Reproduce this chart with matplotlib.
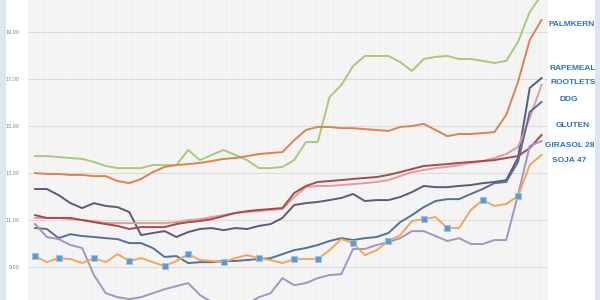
import numpy as np
import matplotlib
matplotlib.use("Agg")
import matplotlib.pyplot as plt
from matplotlib.patches import Rectangle

# weekly prices, one value per week (44 weeks)
weeks = list(range(44))

green = [13.72, 13.72, 13.68, 13.64, 13.60, 13.47, 13.30, 13.21, 13.21, 13.21,
         13.34, 13.34, 13.34, 13.98, 13.55, 13.77, 13.98, 13.77, 13.55, 13.21,
         13.21, 13.26, 13.55, 14.32, 14.32, 16.23, 16.74, 17.55, 17.98, 17.98,
         17.98, 17.72, 17.34, 17.85, 17.94, 17.98, 17.85, 17.85, 17.77, 17.68,
         17.77, 18.57, 19.85, 20.57]

palmkern = [13.00, 12.96, 12.96, 12.92, 12.92, 12.87, 12.87, 12.66, 12.57, 12.75,
            13.04, 13.26, 13.34, 13.38, 13.43, 13.51, 13.60, 13.64, 13.72, 13.81,
            13.85, 13.89, 14.40, 14.83, 14.96, 14.96, 14.91, 14.91, 14.87, 14.83,
            14.79, 14.96, 15.00, 15.09, 14.83, 14.57, 14.66, 14.66, 14.70, 14.74,
            15.47, 16.87, 18.66, 19.51]

rapemeal = [12.32, 12.32, 12.06, 11.72, 11.51, 11.72, 11.60, 11.55, 11.34, 10.36,
            10.45, 10.53, 10.28, 10.49, 10.62, 10.66, 10.57, 10.66, 10.62, 10.75,
            10.83, 11.09, 11.64, 11.72, 11.77, 11.85, 11.94, 12.11, 11.81, 11.85,
            11.85, 11.98, 12.19, 12.45, 12.40, 12.40, 12.45, 12.49, 12.57, 12.62,
            12.70, 13.64, 16.62, 17.04]

rootlets = [11.09, 11.09, 11.09, 11.04, 11.00, 10.96, 10.87, 10.87, 10.87, 10.87,
            10.87, 10.87, 10.91, 11.00, 11.04, 11.13, 11.21, 11.30, 11.34, 11.38,
            11.43, 11.47, 11.98, 12.40, 12.45, 12.45, 12.49, 12.53, 12.57, 12.62,
            12.70, 12.87, 13.04, 13.13, 13.21, 13.26, 13.34, 13.43, 13.51, 13.64,
            13.81, 14.11, 15.34, 16.75]

ddg = [10.66, 10.62, 10.23, 10.40, 10.32, 10.28, 10.23, 10.19, 10.02, 10.02,
       9.81, 9.43, 9.47, 9.17, 9.21, 9.21, 9.26, 9.26, 9.30, 9.34,
       9.38, 9.55, 9.72, 9.81, 9.94, 10.11, 10.23, 10.15, 10.23, 10.28,
       10.45, 10.91, 11.21, 11.55, 11.81, 11.89, 11.89, 12.11, 12.32, 12.57,
       12.62, 13.47, 15.60, 16.02]

gluten = [11.21, 11.09, 11.09, 11.09, 11.00, 10.91, 10.83, 10.75, 10.62, 10.70,
          10.70, 10.70, 10.83, 10.91, 10.96, 11.04, 11.17, 11.30, 11.38, 11.43,
          11.47, 11.51, 12.15, 12.45, 12.62, 12.66, 12.70, 12.75, 12.79, 12.83,
          12.92, 13.04, 13.17, 13.30, 13.34, 13.38, 13.43, 13.47, 13.51, 13.55,
          13.64, 13.72, 14.06, 14.62]

girasol28 = [10.83, 10.28, 10.19, 9.94, 9.81, 8.66, 7.89, 7.72, 7.64, 7.72,
             7.89, 8.06, 8.19, 8.32, 7.81, 7.51, 7.26, 7.17, 7.43, 7.72,
             7.89, 8.53, 8.23, 8.32, 8.53, 8.66, 8.70, 9.77, 9.77, 9.94,
             10.06, 10.23, 10.53, 10.53, 10.32, 10.11, 10.23, 9.98, 9.98, 10.15,
             10.15, 12.06, 14.15, 14.36]

soja47 = [9.47, 9.21, 9.38, 9.34, 9.17, 9.38, 9.21, 9.55, 9.26, 9.38,
          9.21, 9.04, 9.26, 9.55, 9.30, 9.26, 9.21, 9.38, 9.51, 9.38,
          9.30, 9.17, 9.34, 9.34, 9.34, 9.72, 10.19, 10.02, 9.51, 9.72,
          10.11, 10.36, 10.96, 11.04, 11.13, 10.66, 10.66, 11.43, 11.85, 11.60,
          11.68, 12.02, 13.34, 13.77]
soja_marks = [0, 2, 5, 8, 11, 13, 16, 19, 22, 24, 27, 30, 33, 35, 38, 41]

y_ticks = [9, 11, 13, 15, 17, 19]
y_tick_labels = ["9,00", "11,00", "13,00", "15,00", "17,00", "19,00"]

labels = ["PALMKERN", "RAPEMEAL", "ROOTLETS", "DDG", "GLUTEN", "GIRASOL 28", "SOJA 47"]
label_px = [(572, 25), (573, 69), (573, 82), (569, 99), (573, 126), (570, 145), (569, 161)]

fig = plt.figure(figsize=(6, 3), dpi=100)
fig.patch.set_facecolor("white")

# light blue frame strips on both sides
fig.add_artist(Rectangle((0, 0), 6 / 600, 1, transform=fig.transFigure,
                         facecolor="#dce6f2", edgecolor="none"))
fig.add_artist(Rectangle((595 / 600, 0), 5 / 600, 1, transform=fig.transFigure,
                         facecolor="#dce6f2", edgecolor="none"))

ax = fig.add_axes([28 / 600, 0, 520 / 600, 1])
ax.set_facecolor("#f3f3f3")
for s in ax.spines.values():
    s.set_visible(False)

ax.set_xlim(-0.6, 43.55)
ax.set_ylim(7.6, 20.36)

for xv in np.arange(-0.5, 44, 0.5):
    ax.axvline(xv, color="#f8f8f8", lw=0.7, zorder=0)
for yv in y_ticks:
    ax.axhline(yv, color="#dcdcdc", lw=0.8, zorder=1)

lw = 1.4
ax.plot(weeks, green, color="#a9c97a", lw=lw, zorder=3)
ax.plot(weeks, palmkern, color="#e0824a", lw=lw, zorder=3)
ax.plot(weeks, rapemeal, color="#5c5a78", lw=lw, zorder=3)
ax.plot(weeks, rootlets, color="#e89a9a", lw=lw, zorder=3)
ax.plot(weeks, ddg, color="#56709a", lw=lw, zorder=3)
ax.plot(weeks, gluten, color="#a8494a", lw=lw, zorder=3)
ax.plot(weeks, girasol28, color="#a493c6", lw=lw, zorder=3)
ax.plot(weeks, soja47, color="#f5a55a", lw=lw, zorder=4,
        marker="s", markevery=soja_marks, markersize=4.5,
        markerfacecolor="#5b9bd5", markeredgecolor="#9cc3e6", markeredgewidth=0.6)

ax.set_xticks([])
ax.set_yticks(y_ticks)
ax.set_yticklabels(y_tick_labels, fontsize=3.5, color="#808080")
ax.tick_params(axis="y", length=0, pad=6)

for name, (px, py) in zip(labels, label_px):
    fig.text(px / 600, 1 - py / 300, name, ha="center", va="center",
             fontsize=6, fontweight="bold", color="#2e75b6",
             family="Liberation Sans")

fig.savefig("out.png", dpi=100)
